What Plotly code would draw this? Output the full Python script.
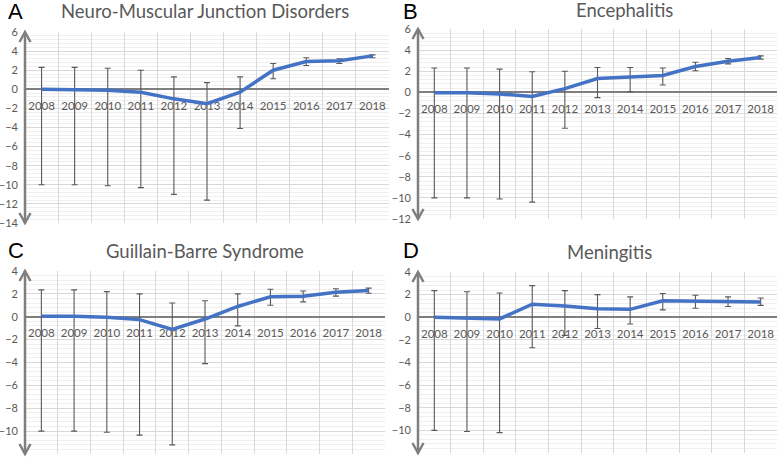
import plotly.graph_objects as go

W, H = 778, 458

years = ["2008", "2009", "2010", "2011", "2012", "2013", "2014", "2015", "2016", "2017", "2018"]

# Panel A: Neuro-Muscular Junction Disorders
a_val = [0.0, -0.05, -0.1, -0.3, -1.0, -1.5, -0.3, 2.0, 2.9, 3.0, 3.5]
a_up = [2.3, 2.3, 2.2, 2.0, 1.3, 0.7, 1.3, 2.7, 3.3, 3.2, 3.6]
a_lo = [-10.0, -10.0, -10.1, -10.3, -11.0, -11.6, -4.1, 1.1, 2.5, 2.7, 3.3]

# Panel B: Encephalitis
b_val = [-0.05, -0.05, -0.15, -0.4, 0.35, 1.3, 1.45, 1.6, 2.45, 2.95, 3.3]
b_up = [2.3, 2.3, 2.2, 1.95, 2.0, 2.35, 2.35, 2.3, 2.85, 3.2, 3.45]
b_lo = [-10.0, -10.0, -10.1, -10.4, -3.4, -0.5, 0.05, 0.7, 2.05, 2.7, 3.15]

# Panel C: Guillain-Barre Syndrome
c_val = [0.05, 0.05, -0.05, -0.25, -1.1, -0.2, 0.9, 1.75, 1.8, 2.15, 2.3]
c_up = [2.35, 2.35, 2.2, 2.0, 1.2, 1.4, 2.0, 2.4, 2.25, 2.45, 2.5]
c_lo = [-10.0, -10.0, -10.1, -10.35, -11.2, -4.1, -0.8, 1.0, 1.3, 1.8, 2.05]

# Panel D: Meningitis
d_val = [0.0, -0.05, -0.15, 1.15, 1.0, 0.75, 0.7, 1.45, 1.4, 1.4, 1.35]
d_up = [2.35, 2.25, 2.15, 2.8, 2.35, 2.0, 1.8, 2.1, 1.95, 1.8, 1.7]
d_lo = [-10.0, -10.1, -10.2, -2.7, -1.6, -1.0, -0.6, 0.65, 0.8, 0.95, 1.05]

titles = ["Neuro-Muscular Junction Disorders", "Encephalitis", "Guillain-Barre Syndrome", "Meningitis"]
letters = ["A", "B", "C", "D"]
yranges = [(-14, 6), (-12, 6), (-12, 4), (-12, 4)]

# pixel layout of each plot area: (left, right, top, bottom)
boxes = [(25, 389, 32, 223), (418, 777, 29, 219), (25, 385, 271, 454), (418, 777, 272, 453)]
title_pos = [(205, 11), (624, 10), (205, 251), (609, 252)]
letter_pos = [(16, 11), (411, 11), (16, 250), (411, 250)]

series = [(a_val, a_up, a_lo), (b_val, b_up, b_lo), (c_val, c_up, c_lo), (d_val, d_up, d_lo)]


def px(x):
    return x / W


def py(y):
    return 1 - y / H


fig = go.Figure()
layout = dict(
    width=W, height=H, margin=dict(l=0, r=0, t=0, b=0, autoexpand=False),
    paper_bgcolor="white", plot_bgcolor="white", showlegend=False,
)
shapes = []
annotations = []

for i in range(4):
    n = "" if i == 0 else str(i + 1)
    val, up, lo = series[i]
    plus = [u - v for u, v in zip(up, val)]
    minus = [v - l for v, l in zip(val, lo)]
    fig.add_trace(go.Scatter(
        x=years, y=val, mode="lines", xaxis="x" + n, yaxis="y" + n,
        line=dict(color="#4472C4", width=3.5),
        error_y=dict(type="data", symmetric=False, array=plus, arrayminus=minus,
                     color="#595959", thickness=1.1, width=3),
        hoverinfo="skip",
    ))
    l, r, t, b = boxes[i]
    xd = [px(l), px(r)]
    yd = [py(b), py(t)]
    y0, y1 = yranges[i]
    zero_pos = yd[0] + (0 - y0) / (y1 - y0) * (yd[1] - yd[0])
    layout["xaxis" + n] = dict(
        domain=xd, anchor="free", position=zero_pos, type="category",
        range=[-0.5, 10.5], tickson="boundaries", showgrid=True,
        gridcolor="#d9d9d9", gridwidth=1, ticks="", ticklabelstandoff=6,
        tickangle=0, automargin=False,
        showline=True, linecolor="#7f7f7f", linewidth=1.5, layer="below traces",
        tickfont=dict(family="Lato", size=11.5, color="#595959"), zeroline=False,
        fixedrange=True,
    )
    layout["yaxis" + n] = dict(
        domain=yd, anchor="x" + n, range=[y0, y1], dtick=2, tick0=0,
        showgrid=True, gridcolor="#d9d9d9", gridwidth=1, zeroline=False,
        minor=dict(dtick=0.4, showgrid=True, gridcolor="#efefef", gridwidth=1),
        showline=False, ticks="", ticklabelstandoff=6, automargin=False,
        tickfont=dict(family="Lato", size=11, color="#595959"), layer="below traces",
        fixedrange=True,
    )
    xr = "x" + n + " domain"
    yr = "y" + n + " domain"
    pw = (xd[1] - xd[0]) * W
    ph = (yd[1] - yd[0]) * H
    dx = 5.5 / pw
    dy = 10 / ph
    ac = "#7f7f7f"
    shapes.append(dict(type="line", xref=xr, yref=yr, x0=0, x1=0, y0=0, y1=1,
                       line=dict(color=ac, width=2.5)))
    shapes.append(dict(type="path", xref=xr, yref=yr,
                       path=f"M {-dx} {1 - dy} L 0 1 L {dx} {1 - dy}",
                       line=dict(color=ac, width=2.5)))
    shapes.append(dict(type="path", xref=xr, yref=yr,
                       path=f"M {-dx} {dy} L 0 0 L {dx} {dy}",
                       line=dict(color=ac, width=2.5)))
    tx, ty = title_pos[i]
    annotations.append(dict(text=titles[i], x=px(tx), y=py(ty), xref="paper", yref="paper",
                            showarrow=False, xanchor="center", yanchor="middle",
                            font=dict(family="Lato", size=18.5, color="#595959")))
    lx, ly = letter_pos[i]
    annotations.append(dict(text=letters[i], x=px(lx), y=py(ly), xref="paper", yref="paper",
                            showarrow=False, xanchor="center", yanchor="middle",
                            font=dict(family="Liberation Sans", size=22, color="black")))

layout["shapes"] = shapes
layout["annotations"] = annotations
fig.update_layout(**layout)
fig.write_html(
    "out.html",
    config={"displayModeBar": False},
    post_script="document.body.style.margin='0';document.body.style.overflow='hidden';",
)
